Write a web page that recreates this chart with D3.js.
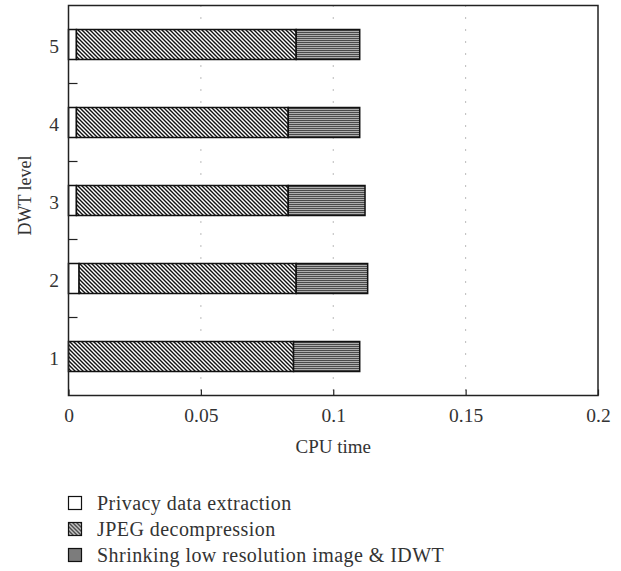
<!DOCTYPE html>
<html><head><meta charset="utf-8">
<script src="https://cdn.jsdelivr.net/npm/d3@7"></script>
<style>body{margin:0;background:#fff}svg{display:block}text{font-family:"Liberation Serif","Times New Roman",serif;fill:#333}</style>
</head><body>
<script>
const levels = [1, 2, 3, 4, 5];
const privacy = [0.000, 0.004, 0.003, 0.003, 0.003];
const jpeg = [0.085, 0.082, 0.080, 0.080, 0.083];
const shrink = [0.025, 0.027, 0.029, 0.027, 0.024];
const seriesNames = ["Privacy data extraction", "JPEG decompression", "Shrinking low resolution image & IDWT"];
const xTicks = [0, 0.05, 0.1, 0.15, 0.2];
const xTickLabels = ["0", "0.05", "0.1", "0.15", "0.2"];

const W = 621, H = 571;
const svg = d3.select("body").append("svg").attr("width", W).attr("height", H);
const defs = svg.append("defs");
const hatch = defs.append("pattern").attr("id", "hatch").attr("patternUnits", "userSpaceOnUse").attr("width", 4).attr("height", 4);
hatch.append("rect").attr("width", 4).attr("height", 4).attr("fill", "#fff");
hatch.append("path").attr("d", "M-1,-1 L5,5 M-1,3 L1,5 M3,-1 L5,1").attr("stroke", "#111").attr("stroke-width", 1.4);
const stripes = defs.append("pattern").attr("id", "stripes").attr("patternUnits", "userSpaceOnUse").attr("width", 4).attr("height", 2);
stripes.append("rect").attr("width", 4).attr("height", 2).attr("fill", "#adadad");
stripes.append("rect").attr("width", 4).attr("height", 1).attr("fill", "#4a4a4a");
const fills = ["#fff", "url(#hatch)", "url(#stripes)"];

const x = d3.scaleLinear().domain([0, 0.2]).range([68.5, 598]);
const y = d3.scaleLinear().domain([0.5, 5.5]).range([395.5, 5.5]);
const barH = 30;

// grid
svg.append("g").selectAll("line").data(xTicks.slice(1, -1)).join("line")
  .attr("x1", d => x(d)).attr("x2", d => x(d)).attr("y1", y(5.5)).attr("y2", y(0.5))
  .attr("stroke", "#777").attr("stroke-width", 1).attr("stroke-dasharray", "1,11");

// stacked data
const rows = levels.map((l, i) => ({ level: l, privacy: privacy[i], jpeg: jpeg[i], shrink: shrink[i] }));
const stack = d3.stack().keys(["privacy", "jpeg", "shrink"])(rows);
svg.append("g").selectAll("g").data(stack).join("g")
  .attr("fill", (d, i) => fills[i])
  .selectAll("rect").data(d => d.filter(s => s[1] - s[0] > 0)).join("rect")
  .attr("x", d => x(d[0])).attr("width", d => x(d[1]) - x(d[0]))
  .attr("y", d => y(d.data.level) - barH / 2).attr("height", barH)
  .attr("stroke", "#111").attr("stroke-width", 1.5);

// frame
svg.append("rect").attr("x", x(0)).attr("y", y(5.5)).attr("width", x(0.2) - x(0)).attr("height", y(0.5) - y(5.5))
  .attr("fill", "none").attr("stroke", "#222").attr("stroke-width", 1.5);

// x axis
const xAxis = d3.axisBottom(x).tickValues(xTicks).tickFormat((d, i) => xTickLabels[i]).tickSize(-6).tickPadding(13);
const gx = svg.append("g").attr("transform", `translate(0,${y(0.5)})`).call(xAxis);
gx.select(".domain").remove();
gx.selectAll(".tick line").attr("stroke", "#222").attr("stroke-width", 1.2);
gx.selectAll("text").attr("font-size", 19.5).attr("fill", "#333").attr("font-family", "Liberation Serif");

// y axis: half ticks inward, integer labels
const halfTicks = levels.slice(0, -1).map(l => l + 0.5);
svg.append("g").selectAll("line").data(halfTicks).join("line")
  .attr("x1", x(0)).attr("x2", x(0) + 9).attr("y1", d => y(d)).attr("y2", d => y(d))
  .attr("stroke", "#222").attr("stroke-width", 1.2);
svg.append("g").selectAll("text").data(levels).join("text")
  .attr("x", 59).attr("y", d => y(d) + 1.5).attr("dy", "0.35em").attr("text-anchor", "end")
  .attr("font-size", 19.5).text(d => d);

// axis titles
svg.append("text").attr("x", (x(0) + x(0.2)) / 2).attr("y", 453).attr("text-anchor", "middle").attr("font-size", 19).text("CPU time");
svg.append("text").attr("transform", `translate(31,${(y(0.5) + y(5.5)) / 2 - 5}) rotate(-90)`).attr("text-anchor", "middle").attr("font-size", 18).text("DWT level");

// legend
const lg = svg.append("g").selectAll("g").data(seriesNames).join("g")
  .attr("transform", (d, i) => `translate(68.5,${496.5 + i * 26})`);
lg.append("rect").attr("width", 13).attr("height", 13).attr("fill", (d, i) => fills[i]).attr("stroke", "#111").attr("stroke-width", 1.2);
lg.append("text").attr("x", 28.5).attr("y", 7).attr("dy", "0.33em").attr("font-size", 20).attr("letter-spacing", 0.45).text(d => d);
</script>
</body></html>
